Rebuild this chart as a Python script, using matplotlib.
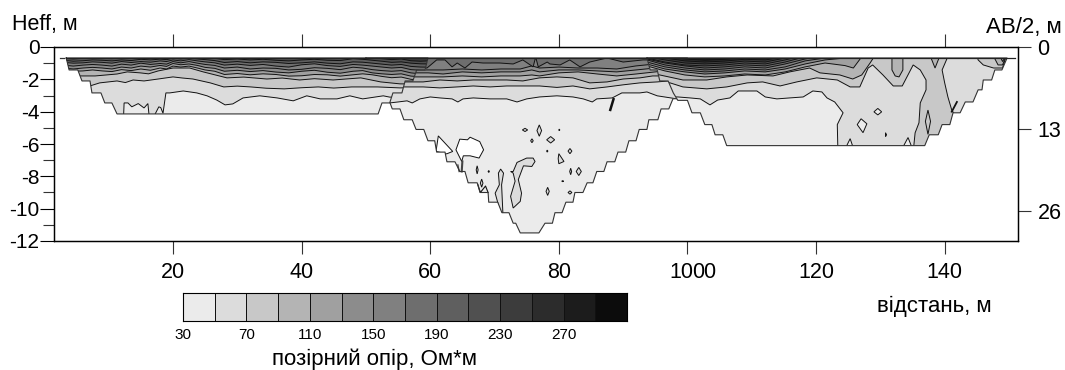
# -*- coding: utf-8 -*-
import matplotlib
matplotlib.use('Agg')
import matplotlib.pyplot as plt
from matplotlib.colors import BoundaryNorm, ListedColormap
from matplotlib.patches import Polygon

plt.rcParams['font.family'] = ['Liberation Sans', 'DejaVu Sans']
plt.rcParams['axes.unicode_minus'] = False

levels = [30, 50, 70, 90, 110, 130, 150, 170, 190, 210, 230, 250, 270, 290, 310]
grays = ['#ebebeb', '#dcdcdc', '#c8c8c8', '#b4b4b4', '#a0a0a0', '#8c8c8c', '#808080',
         '#6e6e6e', '#5f5f5f', '#505050', '#3c3c3c', '#2c2c2c', '#1c1c1c', '#0c0c0c']
x_ticks = [20, 40, 60, 80, 100, 120, 140]
depth_ticks = [0, -2, -4, -6, -8, -10, -12]
ab_ticks = [0, 13, 26]
legend_ticks = [30, 70, 110, 150, 190, 230, 270]

# spread outlines (distance, depth)
edge1_x = [3.4, 3.85, 5.2, 5.85, 7.1, 7.4, 8.8, 9.4, 10.5, 11.3, 51.9, 52.5, 53.7, 54.2, 55.6, 56.1, 57.3, 57.9, 59.2, 59.65]
edge1_d = [.68, 1.42, 1.42, 2.1, 2.1, 2.84, 2.84, 3.46, 3.46, 4.14, 4.14, 3.46, 3.46, 2.84, 2.84, 2.1, 2.1, 1.42, 1.42, .68]
edge2_x = [50, 53.7, 54.1, 55.3, 55.9, 57.2, 57.8, 59, 59.65, 60.7, 61, 62.3, 62.6, 63.85, 64.6, 65.4, 65.9, 67.3, 67.75, 69, 69.1, 70.5,
           71.15, 72.25, 72.9, 73.3, 74, 76.9, 77.85, 79, 79.4, 80.5, 81.1, 82.2, 82.5, 83.75, 84.4, 85.3, 85.9, 87, 87.5, 88.7, 89.2,
           90.4, 90.9, 92, 92.5, 93.7, 94, 95.4, 95.9, 97.1, 97.75, 98.5, 100]
edge2_d = [.68, 3.4, 3.83, 3.83, 4.5, 4.5, 5.1, 5.1, 5.8, 5.8, 6.5, 6.5, 7.1, 7.1, 7.7, 7.7, 8.4, 8.4, 9, 9, 9.6, 9.6,
           10.25, 10.25, 10.9, 10.9, 11.5, 11.5, 10.9, 10.9, 10.25, 10.25, 9.6, 9.6, 9, 9, 8.4, 8.4, 7.7, 7.7, 7.1, 7.1, 6.5,
           6.5, 5.8, 5.8, 5.1, 5.1, 4.5, 4.5, 3.83, 3.83, 3.2, 3.2, .68]
edge3_x = [93.7, 94.2, 95.3, 95.7, 97, 97.8, 98.5, 100, 100.7, 102, 102.7, 103.8, 104.3, 105.5, 106.1, 136.9, 137.6, 139, 139.6,
           140.8, 141.3, 142.4, 143.2, 144.4, 145.2, 145.8, 146, 147.3, 147.8, 148.9, 149.7]
edge3_d = [.68, 1.42, 1.42, 2.1, 2.1, 2.84, 3.3, 3.3, 4.07, 4.07, 4.8, 4.8, 5.43, 5.43, 6.1, 6.1, 5.43, 5.43, 4.8,
           4.8, 4.07, 4.07, 3.4, 3.4, 2.65, 2.65, 2.04, 2.04, 1.42, 1.42, .68]

# spread 1 contours
s1_50_x = [3, 12.3, 12.4, 13, 13.6, 14.6, 15.5, 16.1, 16.3, 16.9, 17.8, 18.1, 18.45, 18.9, 19.5, 21.6, 23.7, 25.3, 26.8, 28.1, 29.3,
           30.9, 33.5, 36.2, 38.7, 40.8, 42.9, 45.5, 47.5, 49.5, 52.7, 53.7, 55.3]
s1_50_d = [4.5, 4.5, 3.46, 3.46, 3.7, 3.5, 3.77, 3.5, 4.3, 4.4, 3.7, 3.75, 4.1, 2.84, 2.84, 2.72, 2.84, 3.02, 3.28, 3.58, 3.52,
           3.15, 3.02, 3.15, 3.33, 3.02, 3.21, 3.21, 3.02, 3.21, 3.02, 3.1, 3.1]
s1_70_x = [7, 8.6, 11.3, 12.6, 13.8, 15.5, 17.7, 20, 21.5, 23.1, 25.8, 27.9, 30, 32.1, 34.5, 37.3, 40, 42.6, 45, 47.8, 51.8, 55.3, 60]
s1_70_d = [2.42, 2.22, 2.1, 2.2, 2.04, 2.1, 1.98, 1.85, 1.92, 1.98, 2.22, 2.47, 2.42, 2.47, 2.55, 2.59, 2.52, 2.47, 2.54, 2.47, 2.47, 2.53, 2.5]
s1_90_x = [5.2, 7.9, 9.6, 11.3, 12.9, 14.9, 16.2, 17.7, 20, 22.6, 24.7, 28.4, 31, 34.6, 37, 39.7, 42, 44.9, 49.2, 52.3, 55.3, 60]
s1_90_d = [1.79, 1.79, 1.73, 1.67, 1.54, 1.6, 1.66, 1.48, 1.3, 1.3, 1.54, 1.91, 1.86, 1.98, 1.92, 2.04, 1.96, 2.04, 1.91, 2.16, 2.28, 2.3]
s1_x = [3, 4.5, 6, 7.5, 9, 10.5, 12, 13.5, 15, 16.5, 18, 19, 20, 21.2, 22.5, 23.8, 25, 26.5, 28, 30, 32, 34, 36, 38, 40, 42, 44, 46, 48, 49.5, 51, 52.5, 54, 55.5, 57, 58.5, 60]
s1_110 = [1.42, 1.5, 1.48, 1.42, 1.48, 1.52, 1.4, 1.46, 1.36, 1.44, 1.3, 1.36, 1.18, 1.24, 1.18, 1.3, 1.42, 1.5, 1.7, 1.64, 1.72, 1.66, 1.7, 1.8, 1.78, 1.7, 1.72, 1.8, 1.72, 1.66, 1.72, 1.82, 1.9, 1.86, 2.0, 2.06, 2.1]
s1_130 = [1.3, 1.36, 1.3, 1.26, 1.3, 1.36, 1.24, 1.3, 1.18, 1.24, 1.14, 1.2, 1.02, 1.1, 1.05, 1.14, 1.26, 1.32, 1.5, 1.44, 1.52, 1.46, 1.55, 1.6, 1.5, 1.44, 1.56, 1.62, 1.5, 1.46, 1.6, 1.66, 1.7, 1.66, 1.8, 1.84, 1.9]
s1_150 = [1.12, 1.18, 1.12, 1.08, 1.12, 1.18, 1.06, 1.12, 1.0, 1.08, 1.02, 1.06, .9, .98, .9, 1.0, 1.08, 1.14, 1.3, 1.24, 1.36, 1.3, 1.32, 1.42, 1.38, 1.28, 1.32, 1.4, 1.25, 1.3, 1.4, 1.46, 1.5, 1.46, 1.6, 1.66, 1.7]
s1_170 = [.95, 1.0, .98, .92, .95, 1.0, .9, .96, .9, .94, .86, .9, .8, .86, .78, .86, .92, .98, 1.12, 1.06, 1.14, 1.08, 1.18, 1.24, 1.1, 1.04, 1.15, 1.2, 1.08, 1.12, 1.18, 1.24, 1.3, 1.26, 1.4, 1.44, 1.45]
s1_190 = [.82, .88, .85, .8, .82, .86, .8, .84, .76, .8, .75, .78, .7, .74, .7, .74, .78, .84, .96, .9, .98, .92, .95, 1.02, .98, .92, 1.0, 1.04, .92, .94, 1.0, 1.06, 1.12, 1.08, 1.2, 1.24, 1.25]
s1_210 = [.7, .74, .7, .68, .7, .72, .68, .7, .68, .7, .66, .68, .62, .66, .62, .64, .66, .7, .78, .74, .8, .76, .82, .86, .8, .76, .82, .84, .72, .76, .82, .88, .95, .92, 1.0, 1.04, 1.05]
s1_230 = [.5, .5, .5, .5, .5, .5, .5, .5, .5, .5, .5, .5, .5, .5, .5, .5, .5, .5, .55, .5, .55, .52, .6, .66, .55, .5, .6, .64, .6, .62, .68, .72, .78, .74, .85, .88, .85]

# spread 2 contours
s2_50_x = [53.7, 55, 56.4, 57.2, 58.4, 60, 61.5, 63.4, 64.3, 65.1, 66.7, 69.3, 71.9, 73.5, 75, 77, 79.7, 82.2, 83.8, 85.2, 85.9, 88.3, 89.8, 92.6, 93.7, 95.3, 98.4]
s2_50_d = [3.46, 3.4, 3.33, 3.46, 3.21, 3.09, 3.15, 3.21, 3.4, 3.21, 3.15, 3.21, 3.21, 3.4, 3.21, 3.09, 3.02, 3.09, 3.21, 3.4, 3.21, 3.15, 2.84, 2.84, 2.78, 3.02, 3.21]
s2_70_x = [55.3, 56.9, 58.9, 61.5, 64.2, 66.7, 69.3, 71.9, 74.4, 77, 79.7, 82.2, 84.8, 87.5, 90, 92.6, 95.3, 97]
s2_70_d = [2.47, 2.47, 2.47, 2.53, 2.47, 2.41, 2.47, 2.41, 2.41, 2.41, 2.5, 2.41, 2.59, 2.47, 2.34, 2.22, 2.16, 2.1]
s2_90_x = [56.4, 58.9, 61.5, 64.2, 66.7, 69.3, 71.9, 74.4, 77, 79.7, 82.2, 84.8, 87.5, 90, 92.6, 94.6]
s2_90_d = [2.16, 2.16, 2.04, 2.1, 2.04, 2.04, 2.04, 2.1, 1.91, 1.85, 1.91, 2.22, 2.16, 1.98, 1.91, 1.79]
s2_x = [59.7, 62, 65, 68, 71, 74, 75.8, 77, 80, 83, 86, 89, 92, 95, 98]
s2_110 = [1.85, 1.85, 1.79, 1.85, 1.79, 1.79, 1.73, 1.79, 1.6, 1.54, 1.67, 1.79, 1.67, 1.54, 1.42]
s2_130 = [1.6, 1.67, 1.54, 1.6, 1.54, 1.54, 1.42, 1.54, 1.42, 1.42, 1.48, 1.54, 1.42, 1.3, 1.17]
s2_150 = [1.42, 1.42, 1.36, 1.42, 1.36, 1.36, 1.17, 1.3, 1.24, 1.3, 1.3, 1.36, 1.17, 1.05, .93]
s2_170_x = [59.5, 61, 62.3, 63.4, 64.2, 65.4, 66.5, 68.2, 70.8, 72.9, 74.4, 76, 76.4, 76.8, 78.2, 78.6, 80.2, 81.7, 83.3, 84.8, 87.5, 90, 93.1]
s2_170_d = [1.3, .8, .8, 1.23, .99, 1.3, .93, .99, .99, 1.05, .8, 1.23, .62, 1.23, .93, 1.05, 1.11, .8, 1.23, .93, .68, .93, .8]

# spread 3 contours
s3_50_x = [98.5, 100.4, 102, 103.5, 104.7, 106.6, 107.9, 110.8, 112.1, 113.9, 115.9, 118, 119.5, 120.9, 121.7, 122.9, 124.2, 123.3, 123.4, 160, 160, 97]
s3_50_d = [3.09, 3.15, 3.21, 3.58, 3.28, 3.15, 2.72, 2.72, 3.09, 3.21, 3.15, 3.09, 2.72, 2.78, 3.15, 3.4, 4.07, 4.8, 6.5, 6.5, .3, .3]
s3_70_x = [94, 97.3, 99.3, 103, 106.1, 109.3, 111.7, 114.4, 117, 120.1, 123.3, 125.3, 126.8, 128.1, 128.8, 130.4, 132, 133.4, 135.1, 136.2, 137.1, 137.1,
           136.2, 136, 135.4, 135.2, 135.2, 142, 141.6, 141.1, 140.5, 140, 139.6, 140.4, 140.4, 94]
s3_70_d = [2.1, 2.22, 2.47, 2.59, 2.47, 2.22, 2.16, 2.41, 2.16, 1.91, 2.04, 2.47, 2.47, 1.3, 1.11, 1.73, 2.41, 2.41, 1.11, 1.42, 2.04, 2.65,
           3.46, 4.69, 5.31, 6.1, 6.5, 6.5, 4.2, 3.9, 3.09, 2.22, 1.42, .68, .3, .3]
s3_90_x = [94, 95.7, 99.3, 103, 106.1, 109.3, 113.3, 115.9, 119, 120.6, 123.7, 125.7, 127.1, 128.4, 129.2, 150]
s3_90_d = [1.6, 1.73, 2.04, 2.04, 1.85, 1.73, 1.79, 1.54, 1.3, 1.6, 1.73, 1.98, 1.73, .99, .5, .5]
s3_x = [93.7, 96.5, 99.6, 102.7, 105.8, 108.9, 112.1, 115.2, 118.3, 121.4, 124.5, 125.8, 127.3]
s3_110 = [1.17, 1.48, 1.73, 1.85, 1.79, 1.67, 1.73, 1.54, 1.23, .99, 1.15, 1.3, .5]
s3_130 = [1.05, 1.36, 1.54, 1.67, 1.6, 1.48, 1.54, 1.36, 1.05, .8, .68, .5, .5]
s3_150 = [.93, 1.23, 1.42, 1.54, 1.48, 1.36, 1.42, 1.23, .86, .68, .5, .5, .5]
s3_170 = [.8, 1.11, 1.3, 1.42, 1.36, 1.23, 1.3, 1.05, .74, .5, .5, .5, .5]
s3_190 = [.74, .99, 1.17, 1.3, 1.23, 1.11, 1.17, .93, .6, .5, .5, .5, .5]
s3_210 = [.68, .93, 1.11, 1.17, 1.11, .99, 1.05, .8, .5, .5, .5, .5, .5]
s3_230 = [.6, .8, .99, 1.05, .99, .87, .93, .68, .5, .5, .5, .5, .5]
s3_250 = [.5, .68, .86, .93, .87, .76, .8, .6, .5, .5, .5, .5, .5]
s3_270 = [.5, .6, .74, .82, .76, .68, .7, .5, .5, .5, .5, .5, .5]
s3_290 = [.5, .5, .62, .72, .66, .6, .62, .5, .5, .5, .5, .5, .5]

# closed pockets: colour, x, depth
s1_pockets = []
s2_pockets = [
    ('white', [61.26, 63.5, 62.56, 60.9], [5.5, 6.46, 6.61, 6.46]),
    ('white', [64, 64.6, 65.8, 66.2, 67.7, 68.3, 67.6, 66.2, 65.15, 64.9], [6.36, 5.7, 5.74, 5.58, 5.85, 6.36, 6.87, 6.73, 6.73, 7.08]),
    ('#dcdcdc', [70.6, 70.95, 71.4, 71.1, 71.3, 70.95, 70.1, 70.75], [7.8, 7.55, 7.8, 8.52, 10.27, 10.27, 9.04, 8.52]),
    ('#dcdcdc', [72.5, 72.9, 73.5, 75, 76, 76.3, 75.8, 74.5, 73.7, 74.2, 74, 72.9, 72.5, 73.2, 72.9],
     [7.7, 7.7, 7.14, 6.87, 6.87, 7.08, 7.39, 7.35, 8.2, 9.04, 9.55, 9.96, 9.24, 8.3, 7.8]),
    ('#dcdcdc', [80, 80.8, 80, 79.9], [6.6, 7.08, 7.22, 6.9]),
]
dia_x = [76.96, 74.74, 78.73, 75.82, 80.07, 78.2, 81.73, 81.84, 83.1, 80.6, 78.26, 81.73, 67.3, 69.1, 68]
dia_d = [5.17, 5.13, 5.74, 5.8, 5.13, 6.44, 6.44, 7.7, 7.7, 8.3, 8.93, 9.0, 7.6, 7.7, 8.42]
dia_w = [.36, .41, .62, .2, .08, .1, .3, .15, .4, .15, .25, .3, .15, .1, .2]
dia_h = [.35, .1, .2, .12, .05, .06, .16, .2, .25, .03, .25, .1, .25, .06, .25]
s3_pockets = [
    ('#b4b4b4', [131.8, 131.8, 132.3, 132.9, 133.5, 133.5], [.5, 1.42, 1.79, 1.85, 1.42, .5]),
    ('#b4b4b4', [137.7, 138.5, 139.3], [.5, 1.3, .5]),
    ('#c8c8c8', [145, 145.2, 146, 147.6, 149, 149.6], [.5, .8, 1.11, 1.3, 1.3, .5]),
    ('#b4b4b4', [147.5, 148.3, 149, 149.6], [.5, 1.11, 1.11, .5]),
    ('#a0a0a0', [148.5, 149, 149.6], [.5, .9, .5]),
    ('#ebebeb', [126.4, 127, 127.9, 127.3], [4.8, 4.44, 4.75, 5.3]),
    ('#ebebeb', [129, 129.6, 130.2, 129.6], [4.01, 3.8, 4.01, 4.2]),
    ('#ebebeb', [124.65, 125.3, 125.75], [6.2, 5.67, 6.2]),
    ('#ebebeb', [133.5, 134.3, 134.9], [6.2, 5.6, 6.2]),
    ('#c8c8c8', [137, 137.4, 137.8, 137.4], [4.6, 3.9, 4.6, 5.4]),
    ('#000000', [130.8, 130.95, 130.8], [5.3, 5.43, 5.55]),
]


def closed(ax, xs, ds, color, clip):
    p = ax.fill(xs, [-d for d in ds], facecolor=color, edgecolor='#111111', linewidth=0.7, zorder=ax.zz)[0]
    p.set_clip_path(clip)
    ax.zz += 0.01


def layer(ax, xs, ds, color, clip):
    # everything above the contour line has the higher value
    px = [xs[0] - 8] + xs + [xs[-1] + 8, xs[-1] + 8, xs[0] - 8]
    pd = [ds[0]] + ds + [ds[-1], 0.2, 0.2]
    closed(ax, px, pd, color, clip)


def spread(ax, edge_x, edge_d, layers, pockets, base):
    clip = Polygon(list(zip(edge_x, [-d for d in edge_d])), closed=True, facecolor=base,
                   edgecolor='none', zorder=ax.zz, transform=ax.transData)
    ax.add_patch(clip)
    ax.zz += 0.01
    for xs, ds, lev in layers:
        layer(ax, xs, ds, grays[levels.index(lev)], clip)
    for color, xs, ds in pockets:
        closed(ax, xs, ds, color, clip)
    return clip


def outline(ax, edge_x, edge_d):
    ax.plot(edge_x + edge_x[:1], [-d for d in edge_d + edge_d[:1]], color='#333333', lw=0.8, zorder=ax.zz)
    ax.zz += 0.01


fig = plt.figure(figsize=(10.65, 3.7), dpi=100)
ax = fig.add_axes([54 / 1065, 1 - 241 / 370, 964 / 1065, 194 / 370])
ax.zz = 2

# middle spread lies under the other two
clip2 = spread(ax, edge2_x, edge2_d, [
    (s2_50_x, s2_50_d, 50), (s2_70_x, s2_70_d, 70), (s2_90_x, s2_90_d, 90), (s2_x, s2_110, 110),
    (s2_x, s2_130, 130), (s2_x, s2_150, 150), (s2_170_x, s2_170_d, 170)], s2_pockets, grays[0])
for x, d, w, h in zip(dia_x, dia_d, dia_w, dia_h):
    closed(ax, [x - w, x, x + w, x], [d, d - h, d, d + h], grays[1], clip2)
ax.plot([67.4, 67.8, 68.6, 69], [-8.5, -9, -8.6, -9], color='#111111', lw=0.8, zorder=ax.zz)
ax.plot([65, 64.9], [-7.08, -7.7], color='#444444', lw=1.5, zorder=ax.zz)
ax.plot([64.3, 64.5], [-7.3, -7.7], color='#444444', lw=1, zorder=ax.zz)
ax.plot([88, 88.5], [-3.89, -3.23], color='#111111', lw=1.8, zorder=ax.zz)
outline(ax, edge2_x, edge2_d)

spread(ax, edge1_x, edge1_d, [
    (s1_50_x, s1_50_d, 50), (s1_70_x, s1_70_d, 70), (s1_90_x, s1_90_d, 90), (s1_x, s1_110, 110),
    (s1_x, s1_130, 130), (s1_x, s1_150, 150), (s1_x, s1_170, 170), (s1_x, s1_190, 190),
    (s1_x, s1_210, 210), (s1_x, s1_230, 230)], s1_pockets, grays[0])
outline(ax, edge1_x, edge1_d)

spread(ax, edge3_x, edge3_d, [
    (s3_50_x, s3_50_d, 50), (s3_70_x, s3_70_d, 70), (s3_90_x, s3_90_d, 90), (s3_x, s3_110, 110),
    (s3_x, s3_130, 130), (s3_x, s3_150, 150), (s3_x, s3_170, 170), (s3_x, s3_190, 190),
    (s3_x, s3_210, 210), (s3_x, s3_230, 230), (s3_x, s3_250, 250), (s3_x, s3_270, 270),
    (s3_x, s3_290, 290)], s3_pockets, grays[0])
ax.plot([141.1, 141.9], [-4.0, -3.4], color='#111111', lw=1.3, zorder=ax.zz)
outline(ax, edge3_x, edge3_d)

# surface line
ax.plot([2.4, 3.0], [-.68, -.68], color='#333333', lw=0.9, zorder=ax.zz)
ax.plot([3.4, 150.9], [-.68, -.68], color='#222222', lw=0.9, zorder=ax.zz)

ax.set_xlim(1.5, 151.4)
ax.set_ylim(-12, 0)
ax.set_xticks(x_ticks)
ax.set_yticks(depth_ticks)
ax.set_yticks(list(range(-11, 0, 2)), minor=True)
ax.tick_params(axis='x', which='major', top=True, direction='out', length=9.4, width=0.8, labelsize=15.5, pad=5.5, color='#333333')
ax.tick_params(axis='y', which='major', direction='out', length=10, width=0.8, labelsize=15, pad=0.5)
ax.tick_params(axis='y', which='minor', direction='out', length=8, width=0.8, color='#333333')
for s in ax.spines.values():
    s.set_linewidth(0.9)

ax2 = ax.twinx()
ax2.set_ylim(30.75, 0)
ax2.set_yticks(ab_ticks)
ax2.tick_params(axis='y', direction='out', length=9, width=0.8, labelsize=15.5, pad=5, color='#333333')
for s in ax2.spines.values():
    s.set_linewidth(0.9)

fig.text(12 / 1065, 1 - 30 / 370, 'Heff, м', fontsize=15.5)
fig.text(1062 / 1065, 1 - 33 / 370, 'АВ/2, м', fontsize=16, ha='right')
fig.text(877 / 1065, 1 - 312 / 370, 'відстань, м', fontsize=16)
fig.text(703 / 1065, 1 - 278 / 370, '0', fontsize=15.5)

# colour scale
cax = fig.add_axes([183 / 1065, 1 - 321 / 370, 444 / 1065, 28 / 370])
cmap = ListedColormap(grays)
cax.pcolormesh(levels, [0, 1], [levels[:-1]], cmap=cmap, norm=BoundaryNorm(levels, cmap.N),
               edgecolors='#111111', linewidth=0.6)
cax.set_yticks([])
cax.set_xticks(legend_ticks)
cax.tick_params(axis='x', length=0, labelsize=11, pad=5)
cax.set_xlabel('позірний опір, Ом*м', fontsize=16)
cax.xaxis.set_label_coords(0.432, -1.0)
for s in cax.spines.values():
    s.set_linewidth(0.8)

fig.savefig('out.png', dpi=100)
